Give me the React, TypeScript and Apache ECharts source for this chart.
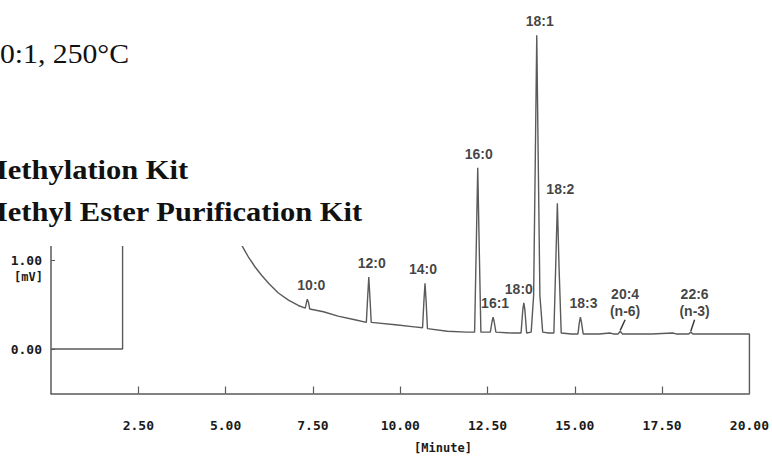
import React, { useEffect, useRef } from 'react';
import * as echarts from 'echarts';

// Chromatogram trace [minute, mV]
const trace: number[][] = [
  [0, 0], [2.05, 0], [2.05, 4.5], [4.3, 4.5], [4.6, 3.2], [4.9, 2.3], [5.2, 1.6], [5.46, 1.17],
  [5.66, 1.03], [5.85, 0.92], [6.03, 0.83], [6.23, 0.74], [6.51, 0.63], [6.8, 0.55], [7.08, 0.49],
  [7.28, 0.46], [7.32, 0.53], [7.34, 0.56], [7.37, 0.53], [7.41, 0.45],
  [7.8, 0.42], [8.22, 0.37], [8.7, 0.33],
  [9.03, 0.3], [9.07, 0.6], [9.1, 0.81], [9.13, 0.6], [9.17, 0.3],
  [9.93, 0.27], [10.4, 0.25],
  [10.64, 0.24], [10.68, 0.55], [10.71, 0.74], [10.74, 0.55], [10.78, 0.23],
  [11.35, 0.2], [11.9, 0.19],
  [12.13, 0.19], [12.18, 1.2], [12.22, 2.04], [12.26, 1.2], [12.31, 0.19],
  [12.58, 0.19], [12.63, 0.31], [12.66, 0.36], [12.69, 0.31], [12.74, 0.19],
  [13.2, 0.18],
  [13.46, 0.18], [13.51, 0.44], [13.54, 0.52], [13.57, 0.44], [13.62, 0.18],
  [13.75, 0.19], [13.82, 0.6], [13.87, 2.2], [13.91, 3.53], [13.95, 2.2], [14.0, 0.6], [14.08, 0.19],
  [14.25, 0.18],
  [14.4, 0.18], [14.45, 0.9], [14.5, 1.64], [14.55, 0.9], [14.61, 0.18],
  [14.9, 0.17],
  [15.09, 0.17], [15.13, 0.3], [15.16, 0.36], [15.19, 0.3], [15.24, 0.17],
  [15.7, 0.17], [16.0, 0.18], [16.1, 0.17],
  [16.24, 0.17], [16.3, 0.2], [16.36, 0.17],
  [17.2, 0.17], [17.8, 0.18], [17.9, 0.17],
  [18.26, 0.17], [18.32, 0.19], [18.38, 0.17],
  [19.0, 0.17], [20.0, 0.17], [20.0, -0.5],
];

const peakNames = ['10:0', '12:0', '14:0', '16:0', '16:1', '18:0', '18:1', '18:2', '18:3', '20:4\n(n-6)', '22:6\n(n-3)'];
const peakTimes = [7.34, 9.1, 10.71, 12.22, 12.66, 13.54, 13.91, 14.5, 15.16, 16.3, 18.32];
const peakHeights = [0.56, 0.81, 0.74, 2.04, 0.36, 0.52, 3.53, 1.64, 0.36, 0.2, 0.19];
// tops of the leader lines for the two labelled minor peaks (20:4, 22:6)
const leaderTops: number[][] = [[16.44, 0.33], [18.43, 0.33]];

const xTickValues = [2.5, 5, 7.5, 10, 12.5, 15, 17.5];
const xLabelValues = [2.5, 5, 7.5, 10, 12.5, 15, 17.5, 20];
const yLabelValues = [0, 1];

const labelOffsets: number[][] = [[4, 0], [3, 0], [-2, 0], [1, 0], [2, 0], [-5, 0], [3, 0], [3, 0], [3, 0], [0, 0], [0, 0]];

export default function App() {
  const ref = useRef<HTMLDivElement>(null);
  useEffect(() => {
    const chart = echarts.init(ref.current!, null, { renderer: 'svg' });
    const mono = 'DejaVu Sans Mono';
    const ink = '#1a1a1a';
    const lineCol = '#5a5a5a';

    const labelData = peakNames.map((n, i) => {
      const leaderIdx = i - (peakNames.length - leaderTops.length);
      const pos = leaderIdx >= 0 ? leaderTops[leaderIdx] : [peakTimes[i], peakHeights[i]];
      return {
        value: [pos[0], pos[1]],
        name: n,
        label: { offset: labelOffsets[i], distance: leaderIdx >= 0 ? 0 : 5 },
      };
    });

    const leaderLines = leaderTops.map((top, k) => {
      const i = peakNames.length - leaderTops.length + k;
      return [{ coord: [peakTimes[i], peakHeights[i] + 0.01] }, { coord: top }];
    });

    chart.setOption({
      animation: false,
      backgroundColor: '#fff',
      grid: { left: 51, right: 18, top: 29, bottom: 62.5 },
      xAxis: {
        type: 'value',
        min: 0,
        max: 20,
        axisLine: { show: true, onZero: false, lineStyle: { color: lineCol, width: 1.5 } },
        axisTick: { show: true, inside: true, length: 7, customValues: xTickValues, lineStyle: { color: lineCol, width: 1.2 } },
        axisLabel: {
          customValues: xLabelValues,
          formatter: (v: number) => v.toFixed(2),
          margin: 25,
          fontFamily: mono,
          fontWeight: 'bold',
          fontSize: 13,
          color: ink,
        },
        splitLine: { show: false },
      },
      yAxis: {
        type: 'value',
        min: -0.5,
        max: 3.6,
        axisLine: { show: true, onZero: false, lineStyle: { color: lineCol, width: 1.5 } },
        axisTick: { show: true, inside: true, length: 4, customValues: yLabelValues, lineStyle: { color: lineCol } },
        axisLabel: {
          customValues: yLabelValues,
          formatter: (v: number) => v.toFixed(2),
          margin: 9,
          fontFamily: mono,
          fontWeight: 'bold',
          fontSize: 13,
          color: ink,
        },
        splitLine: { show: false },
      },
      series: [
        {
          type: 'line',
          data: trace,
          showSymbol: false,
          symbol: 'none',
          lineStyle: { color: lineCol, width: 1.4 },
          markLine: {
            silent: true,
            symbol: 'none',
            label: { show: false },
            lineStyle: { color: '#333', width: 1.4, type: 'solid' },
            data: leaderLines,
          },
        },
        {
          type: 'scatter',
          data: labelData,
          symbolSize: 1,
          itemStyle: { color: 'rgba(0,0,0,0)' },
          label: {
            show: true,
            position: 'top',
            formatter: (p: any) => p.name,
            fontFamily: 'Liberation Sans',
            fontWeight: 'bold',
            fontSize: 14,
            lineHeight: 17,
            color: '#111',
          },
          z: 5,
        },
      ],
      graphic: [
        { type: 'rect', shape: { x: 0, y: 0, width: 300, height: 246 }, style: { fill: '#fff' }, z: 100 },
        {
          type: 'text', x: 0, y: 54, scaleX: 1.1, z: 101,
          style: { text: '0:1, 250°C', font: '27px "Liberation Serif"', fill: '#111', verticalAlign: 'middle' },
        },
        {
          type: 'text', x: -21, y: 170, scaleX: 1.13, z: 101,
          style: { text: 'Methylation Kit', font: 'bold 27px "Liberation Serif"', fill: '#111', verticalAlign: 'middle' },
        },
        {
          type: 'text', x: -21, y: 212, scaleX: 1.13, z: 101,
          style: { text: 'Methyl Ester Purification Kit', font: 'bold 27px "Liberation Serif"', fill: '#111', verticalAlign: 'middle' },
        },
        {
          type: 'text', x: 43, y: 277, z: 101,
          style: { text: '[mV]', font: 'bold 12px "DejaVu Sans Mono"', fill: ink, align: 'right', verticalAlign: 'middle' },
        },
        {
          type: 'text', x: 443, y: 448, z: 101,
          style: { text: '[Minute]', font: 'bold 12px "DejaVu Sans Mono"', fill: ink, align: 'center', verticalAlign: 'middle' },
        },
      ],
    });
    return () => chart.dispose();
  }, []);
  return <div ref={ref} style={{ position: 'fixed', left: 0, top: 0, width: 772, height: 456 }} />;
}
